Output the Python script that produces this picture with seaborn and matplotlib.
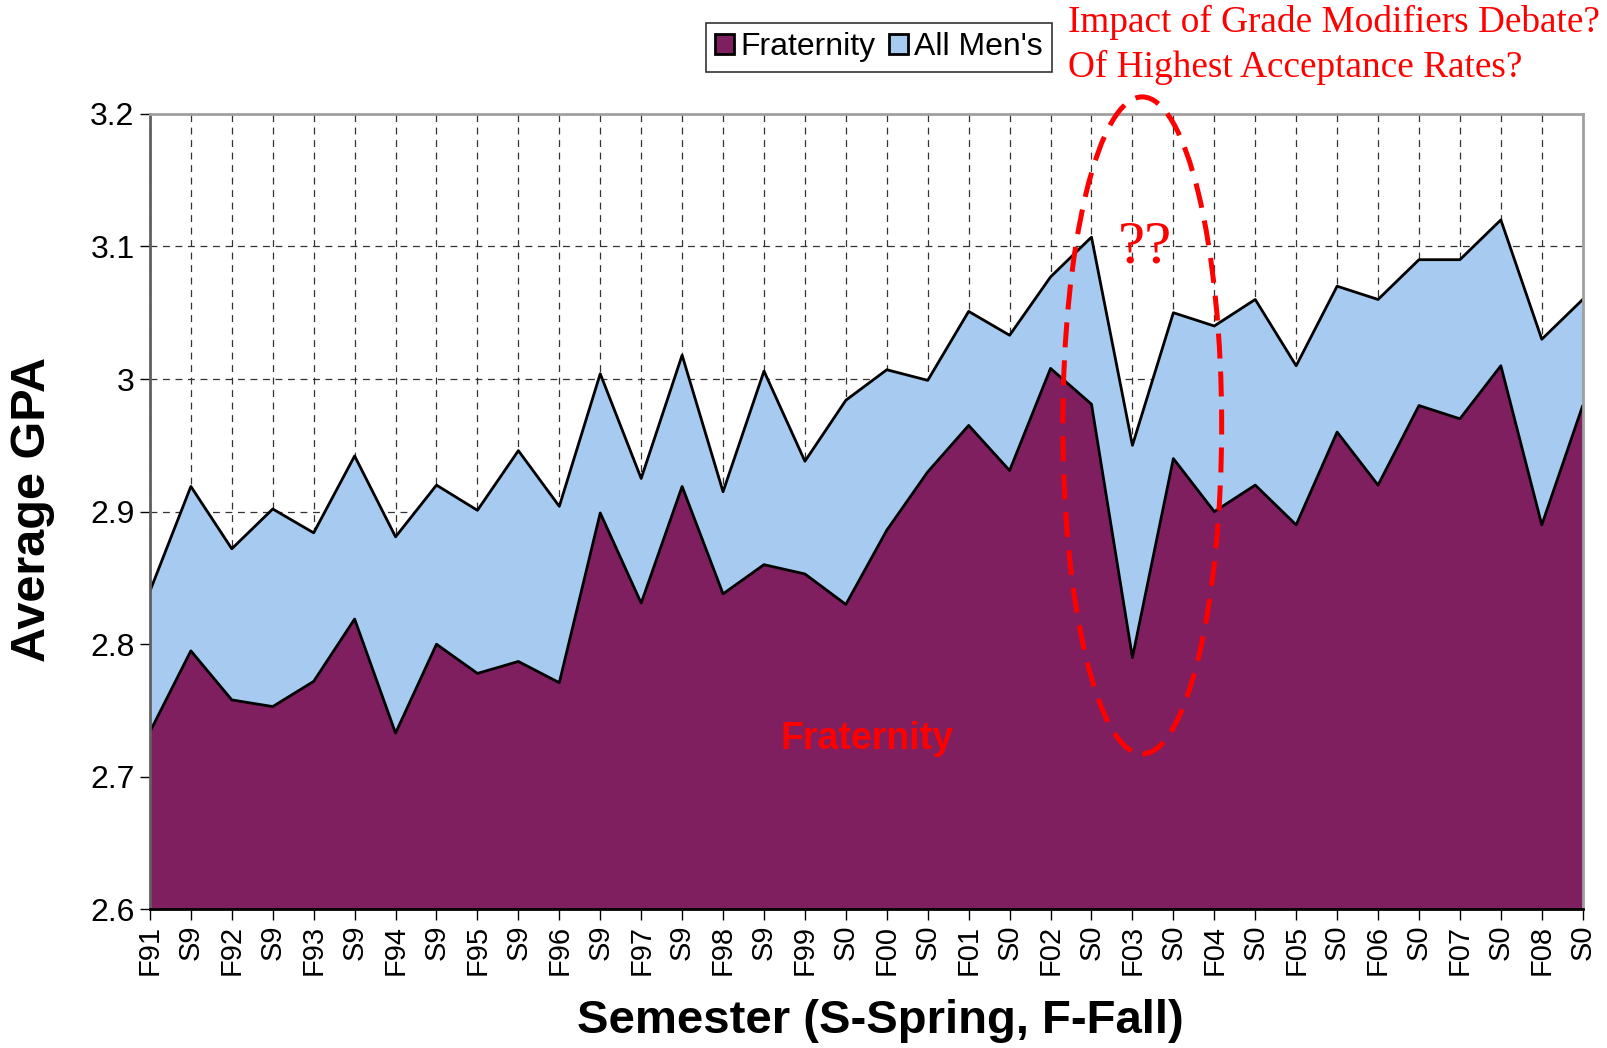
import numpy as np
import pandas as pd
import matplotlib
matplotlib.use("Agg")
import matplotlib.pyplot as plt
import seaborn as sns
from matplotlib.patches import Ellipse, Patch
from matplotlib.ticker import FuncFormatter

semesters = ["F91", "S9", "F92", "S9", "F93", "S9", "F94", "S9", "F95", "S9",
             "F96", "S9", "F97", "S9", "F98", "S9", "F99", "S0", "F00", "S0",
             "F01", "S0", "F02", "S0", "F03", "S0", "F04", "S0", "F05", "S0",
             "F06", "S0", "F07", "S0", "F08", "S0"]
fraternity = [2.734, 2.795, 2.758, 2.753, 2.772, 2.819, 2.733, 2.800, 2.778, 2.787,
              2.771, 2.899, 2.831, 2.919, 2.838, 2.860, 2.853, 2.830, 2.886, 2.930,
              2.965, 2.931, 3.008, 2.981, 2.790, 2.940, 2.900, 2.920, 2.890, 2.960,
              2.920, 2.980, 2.970, 3.010, 2.890, 2.980]
all_mens = [2.840, 2.919, 2.872, 2.902, 2.884, 2.942, 2.881, 2.920, 2.901, 2.946,
            2.904, 3.004, 2.925, 3.018, 2.915, 3.006, 2.938, 2.984, 3.007, 2.999,
            3.051, 3.033, 3.077, 3.107, 2.950, 3.050, 3.040, 3.060, 3.010, 3.070,
            3.060, 3.090, 3.090, 3.120, 3.030, 3.060]

FRAT_C = "#7f1f5f"
MEN_C = "#a6caf0"

sns.set_style("white")
plt.rcParams["font.family"] = ["Liberation Sans", "DejaVu Sans"]
plt.rcParams["text.color"] = "black"
plt.rcParams["axes.labelcolor"] = "black"
plt.rcParams["xtick.color"] = "black"
plt.rcParams["ytick.color"] = "black"

df = pd.DataFrame({"pos": np.arange(len(semesters)), "semester": semesters,
                   "Fraternity": fraternity, "All Men's": all_mens})

fig = plt.figure(figsize=(16.07, 10.48), dpi=100)
ax = fig.add_axes([0.0933, 0.1322, 0.8916, 0.7592])

base = 2.6
ax.fill_between(df["pos"], base, df["All Men's"], color=MEN_C, linewidth=0, zorder=2)
ax.fill_between(df["pos"], base, df["Fraternity"], color=FRAT_C, linewidth=0, zorder=3)
sns.lineplot(data=df, x="pos", y="All Men's", color="black", linewidth=2.0, ax=ax, zorder=4)
sns.lineplot(data=df, x="pos", y="Fraternity", color="black", linewidth=2.0, ax=ax, zorder=5)

ax.set_xlim(0, len(semesters) - 1)
ax.set_ylim(2.6, 3.2)
ax.set_xticks(df["pos"])
ax.set_xticklabels(semesters, rotation=90, fontsize=21)
ax.set_yticks(np.arange(2.6, 3.21, 0.1))
ax.yaxis.set_major_formatter(FuncFormatter(lambda v, p: f"{v:.1f}".rstrip("0").rstrip(".")))
ax.tick_params(axis="y", labelsize=23, length=7, width=1, direction="out", left=True, pad=4)
ax.tick_params(axis="x", length=8, width=1, direction="out", bottom=True, pad=3)

ax.grid(True, which="major", axis="both", color="#333333", linewidth=0.9,
        linestyle=(0, (5.5, 4.5)))
ax.set_axisbelow(True)

for side in ["top", "right"]:
    ax.spines[side].set_color("#a0a0a0")
    ax.spines[side].set_linewidth(2)
ax.spines["left"].set_color("#606060")
ax.spines["left"].set_linewidth(2)
ax.spines["bottom"].set_color("black")
ax.spines["bottom"].set_linewidth(2)
for s in ax.spines.values():
    s.set_zorder(6)

ax.set_xlabel("Semester (S-Spring, F-Fall)", fontsize=34, fontweight="bold")
ax.set_ylabel("Average GPA", fontsize=35, fontweight="bold")
ax.xaxis.set_label_coords(0.51, -0.140)
ax.xaxis.label.set_va("center")
ax.yaxis.set_label_coords(-0.0817, 0.503)
ax.yaxis.label.set_va("center")

handles = [Patch(facecolor=FRAT_C, edgecolor="black", linewidth=2),
           Patch(facecolor=MEN_C, edgecolor="black", linewidth=2)]
leg = fig.legend(handles, ["Fraternity", "All Men's"], loc="center",
                 bbox_to_anchor=(0.547, 0.955), ncol=2, fontsize=23,
                 frameon=True, fancybox=False, edgecolor="black",
                 handlelength=0.6, handleheight=0.6, handletextpad=0.2,
                 columnspacing=0.4, borderpad=0.3, borderaxespad=0)
leg.get_frame().set_linewidth(1.2)

serif = ["Liberation Serif", "DejaVu Serif"]
fig.text(1068 / 1607, 1 - 22.5 / 1048, "Impact of Grade Modifiers Debate?",
         color="red", fontsize=26.8, family=serif, ha="left", va="center")
fig.text(1068 / 1607, 1 - 67.6 / 1048, "Of Highest Acceptance Rates?",
         color="red", fontsize=26.8, family=serif, ha="left", va="center")

ax.text(24.3, 3.099, "??", color="red", fontsize=44, family=serif,
        ha="center", va="center", zorder=8)
ax.text(17.52, 2.7285, "Fraternity", color="red", fontsize=27, fontweight="bold",
        ha="center", va="center", zorder=8)

ell = Ellipse((24.24, 2.965), width=3.88, height=0.4955, fill=False,
              edgecolor="red", linewidth=3.6, linestyle=(0, (5, 2.6)),
              clip_on=False, zorder=9)
ax.add_patch(ell)

fig.savefig("out.png", dpi=100)
